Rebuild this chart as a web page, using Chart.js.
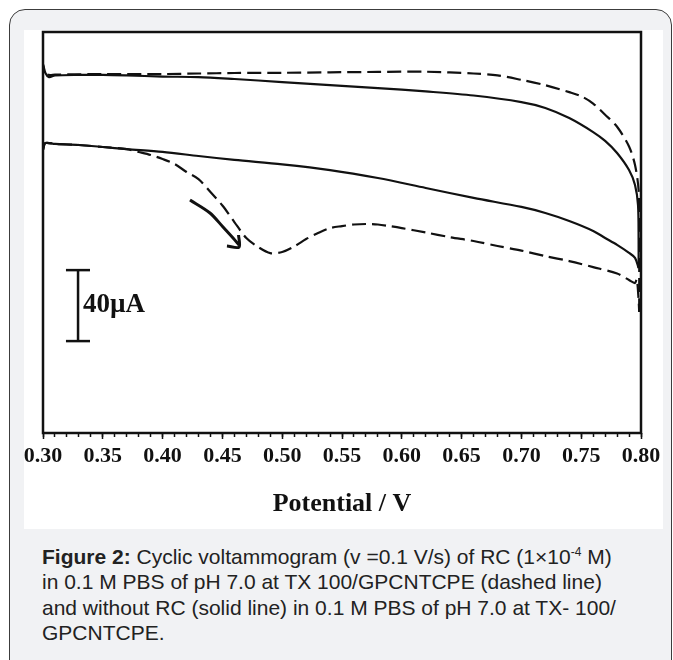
<!DOCTYPE html>
<html><head><meta charset="utf-8">
<script src="https://cdn.jsdelivr.net/npm/chart.js@4/dist/chart.umd.min.js"></script>
<style>
html,body{margin:0;padding:0;background:#fff;width:673px;height:660px;overflow:hidden;}
#card{position:absolute;left:9px;top:9px;width:663px;height:720px;border:1px solid #3c3c3c;border-radius:16px;background:#f1f2f4;box-sizing:border-box;}
#panel{position:absolute;left:24px;top:30px;width:639px;height:499px;background:#fff;}
#cap{position:absolute;left:42px;top:544px;font-family:"Liberation Sans",Arial,sans-serif;font-size:21px;line-height:25.3px;color:#222;white-space:nowrap;}
#cap sup{font-size:12px;vertical-align:8px;line-height:0;}
</style></head>
<body>
<div id="card"></div>
<div id="panel"><canvas id="c" width="639" height="499"></canvas></div>
<div id="cap"><b>Figure 2:</b> Cyclic voltammogram (v =0.1 V/s) of RC (1×10<sup>-4</sup> M)<br>in 0.1 M PBS of pH 7.0 at TX 100/GPCNTCPE (dashed line)<br>and without RC (solid line) in 0.1 M PBS of pH 7.0 at TX- 100/<br>GPCNTCPE.</div>
<script>
// ---- data (potential in V, current in µA, arbitrary offset) ----
const xTickLabels = ['0.30','0.35','0.40','0.45','0.50','0.55','0.60','0.65','0.70','0.75','0.80'];

const solidFwdPotential = [0.300,0.302,0.31,0.33,0.35,0.37,0.40,0.43,0.46,0.50,0.54,0.58,0.62,0.66,0.70,0.72,0.74,0.76,0.77,0.78,0.79,0.795,0.798];
const solidFwdCurrent   = [33.5,37.4,36.9,36.3,35.2,34.0,32.4,30.1,27.9,25.4,22.2,17.7,12.1,6.5,1.4,-2.0,-6.5,-12.1,-16.1,-20.0,-24.5,-27.3,-33.0];

const solidRevPotential = [0.300,0.302,0.305,0.31,0.33,0.35,0.37,0.40,0.43,0.46,0.50,0.54,0.58,0.62,0.66,0.70,0.72,0.74,0.76,0.77,0.78,0.79,0.795,0.7975,0.798,0.798];
const solidRevCurrent   = [82.0,76.9,74.6,75.5,75.8,75.8,75.5,74.9,74.6,73.5,71.8,70.1,68.4,66.5,64.2,60.5,57.2,51.5,43.6,38.6,31.8,22.2,13.8,2.5,-17.3,-33.1];

const dashedFwdPotential = [0.300,0.302,0.31,0.33,0.35,0.37,0.38,0.39,0.40,0.41,0.42,0.43,0.44,0.45,0.46,0.47,0.48,0.49,0.50,0.51,0.52,0.53,0.54,0.55,0.56,0.57,0.58,0.59,0.60,0.62,0.64,0.66,0.68,0.70,0.72,0.74,0.76,0.78,0.79,0.795,0.7965,0.798,0.7985];
const dashedFwdCurrent   = [33.5,37.4,36.9,36.3,35.2,34.0,32.4,30.7,28.4,25.6,21.1,17.1,9.8,2.2,-7.1,-16.1,-21.2,-24.6,-24.0,-20.9,-16.7,-13.3,-10.5,-9.4,-8.5,-8.2,-8.5,-9.4,-10.5,-13.0,-15.6,-17.8,-20.6,-23.2,-26.3,-29.1,-32.5,-36.1,-39.8,-41.5,-39.2,-51.1,-57.8];

const dashedRevPotential = [0.7985,0.7985,0.798,0.795,0.79,0.78,0.77,0.76,0.75,0.74,0.72,0.70,0.68,0.66,0.62,0.58,0.54,0.50,0.46,0.43,0.40,0.35,0.31,0.305,0.302,0.300];
const dashedRevCurrent   = [-57.8,-11.6,10.9,25.0,35.5,46.6,53.4,59.7,63.8,66.1,70.0,73.0,75.6,76.6,77.6,77.5,77.3,77.0,76.9,76.6,76.3,76.3,76.0,75.8,76.9,81.4];

const arrowPotential = [0.4229,0.4396,0.4505,0.4589,0.4639];
const arrowCurrent   = [5.3,-2.0,-9.9,-16.1,-20.0];
const arrowHeadPotential = [0.4538,0.4639,0.4635];
const arrowHeadCurrent   = [-20.6,-21.2,-14.4];

const scaleBarPotential = [0.3293,0.3293];
const scaleBarCurrent   = [-34.2,-74.2];
const scaleCapPotential = [0.3192,0.3393];
const scaleCapTopCurrent = [-34.2,-34.2];
const scaleCapBottomCurrent = [-74.2,-74.2];
const scaleBarText = '40µA';
const scaleBarLabelAt = {x:0.3334, y:-53.9};

const pts = (xs, ys) => xs.map((x,i)=>({x, y: ys[i]}));
const ink = '#111';

function ds(xs, ys, dashed, width){
  return {data: pts(xs, ys), borderColor: ink, borderWidth: width||2.2, borderDash: dashed?[14,6]:[],
          pointRadius:0, fill:false, tension:0.3, xAxisID:'x', yAxisID:'y'};
}

const framePlugin = {
  id:'frame',
  afterDatasetsDraw(chart){
    const {ctx, chartArea:a} = chart;
    ctx.save();
    ctx.strokeStyle = ink; ctx.lineWidth = 2.5;
    ctx.strokeRect(a.left, a.top, a.right-a.left, a.bottom-a.top);
    const xs = chart.scales.x, ys = chart.scales.y;
    ctx.font = 'bold 27px "Liberation Serif", "Times New Roman", serif';
    ctx.fillStyle = ink; ctx.textAlign = 'left'; ctx.textBaseline = 'middle';
    ctx.fillText(scaleBarText, xs.getPixelForValue(scaleBarLabelAt.x), ys.getPixelForValue(scaleBarLabelAt.y));
    ctx.restore();
  }
};

new Chart(document.getElementById('c'), {
  type:'line',
  data:{datasets:[
    ds(solidRevPotential, solidRevCurrent, false),
    ds(solidFwdPotential, solidFwdCurrent, false),
    ds(dashedRevPotential, dashedRevCurrent, true),
    ds(dashedFwdPotential, dashedFwdCurrent, true),
    ds(arrowPotential, arrowCurrent, false, 3),
    ds(arrowHeadPotential, arrowHeadCurrent, false, 3),
    ds(scaleBarPotential, scaleBarCurrent, false, 2.5),
    ds(scaleCapPotential, scaleCapTopCurrent, false, 2.5),
    ds(scaleCapPotential, scaleCapBottomCurrent, false, 2.5)
  ]},
  options:{
    responsive:false, animation:false, devicePixelRatio:1,
    layout:{padding:{left:19, right:22, top:2, bottom:0}},
    plugins:{legend:{display:false}, tooltip:{enabled:false}},
    scales:{
      xMinor:{type:'linear', axis:'x', position:'bottom', weight:0, min:0.30, max:0.80,
        ticks:{display:false, stepSize:0.01},
        border:{display:false},
        grid:{drawOnChartArea:false, drawTicks:true, tickLength:4, tickWidth:1.5, tickColor:ink},
        afterFit(s){ s.height = 0; s.paddingLeft = 0; s.paddingRight = 0; }
      },
      x:{type:'linear', position:'bottom', weight:1, min:0.30, max:0.80,
        ticks:{stepSize:0.05, autoSkip:false, maxRotation:0, padding:4, color:ink,
          font:{family:'"Liberation Serif", "Times New Roman", serif', size:22, weight:'bold'},
          callback:(v,i)=>xTickLabels[i]},
        border:{display:false},
        grid:{drawOnChartArea:false, drawTicks:true, tickLength:6, tickWidth:1.5, tickColor:ink},
        title:{display:true, text:'Potential / V', color:ink,
          font:{family:'"Liberation Serif", "Times New Roman", serif', size:26, weight:'bold'},
          padding:{top:0, bottom:9}},
        afterFit(s){ s.height = 96; s.paddingLeft = 0; s.paddingRight = 0; }
      },
      y:{type:'linear', display:false, min:-126, max:100}
    }
  },
  plugins:[framePlugin]
});
</script>
</body></html>
